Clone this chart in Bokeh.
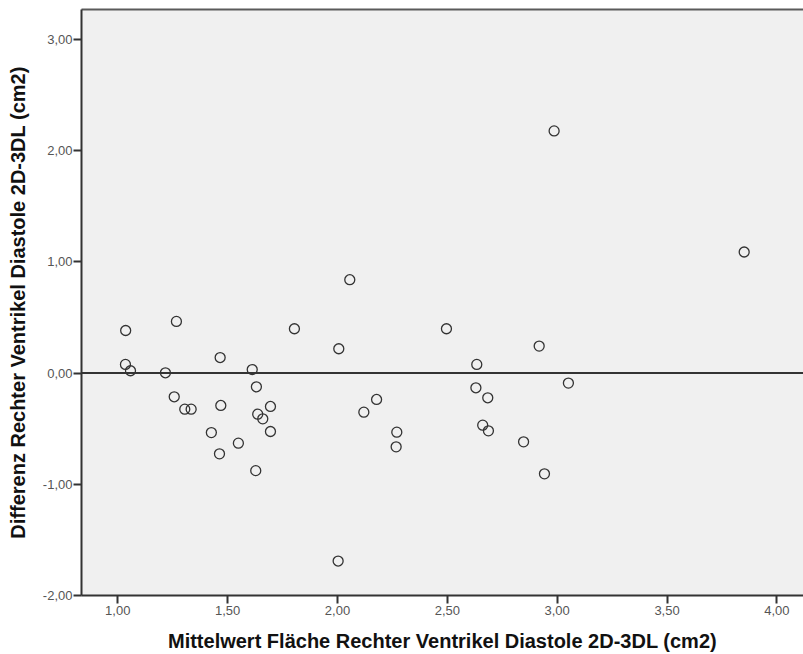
from bokeh.plotting import figure
from bokeh.models import FixedTicker, CustomJSTickFormatter, Span, Range1d, LinearAxis
from bokeh.embed import file_html
from bokeh.resources import INLINE

# Bland-Altman data: mean (x) and difference (y)
mean_vals = [1.036, 1.267, 1.035, 1.058, 1.217, 1.466, 1.612, 1.631, 1.257, 1.305,
             1.334, 1.469, 1.637, 1.660, 1.695, 1.695, 1.426, 1.549, 1.463, 1.628,
             1.804, 2.056, 2.006, 2.178, 2.120, 2.270, 2.267, 2.496, 2.634, 2.630,
             2.684, 2.661, 2.687, 2.847, 2.918, 3.051, 2.942, 2.986, 3.851, 2.003]
diff_vals = [0.383, 0.465, 0.078, 0.021, 0.003, 0.140, 0.032, -0.123, -0.213, -0.324,
             -0.324, -0.291, -0.369, -0.411, -0.300, -0.525, -0.535, -0.630, -0.726, -0.877,
             0.399, 0.840, 0.219, -0.237, -0.351, -0.531, -0.663, 0.399, 0.078, -0.132,
             -0.222, -0.468, -0.519, -0.618, 0.243, -0.090, -0.906, 2.178, 1.089, -1.690]

x_ticks = [1.0, 1.5, 2.0, 2.5, 3.0, 3.5, 4.0]
y_ticks = [-2.0, -1.0, 0.0, 1.0, 2.0, 3.0]
x_title = "Mittelwert Fläche Rechter Ventrikel Diastole 2D-3DL (cm2)"
y_title = "Differenz Rechter Ventrikel Diastole 2D-3DL (cm2)"

p = figure(width=803, height=654, output_backend="svg", toolbar_location=None,
           x_range=Range1d(0.835, 4.121), y_range=Range1d(-2.0, 3.27),
           min_border_left=81, min_border_right=0, min_border_top=9, min_border_bottom=59)

p.background_fill_color = "#f0f0f0"
p.border_fill_color = "white"
p.outline_line_color = None
p.xgrid.visible = False
p.ygrid.visible = False

bottom_axis = p.below[0]
left_axis = p.left[0]

fmt = CustomJSTickFormatter(code="return tick.toFixed(2).replace('.', ',');")

for ax, ticks in ((bottom_axis, x_ticks), (left_axis, y_ticks)):
    ax.ticker = FixedTicker(ticks=ticks)
    ax.formatter = fmt
    ax.minor_tick_line_color = None
    ax.major_tick_in = 0
    ax.major_tick_out = 8
    ax.major_tick_line_color = "#333333"
    ax.major_tick_line_width = 2
    ax.axis_line_color = "#333333"
    ax.axis_line_width = 2
    ax.major_label_text_font = "Liberation Sans"
    ax.major_label_text_font_size = "13px"
    ax.major_label_text_color = "#555555"
    ax.axis_label_text_font = "Liberation Sans"
    ax.axis_label_text_font_style = "bold"
    ax.axis_label_text_font_size = "20px"
    ax.axis_label_text_color = "#111111"

bottom_axis.axis_label = x_title
left_axis.axis_label = y_title
bottom_axis.major_label_standoff = 2
left_axis.major_label_standoff = 1
bottom_axis.axis_label_standoff = 12
left_axis.axis_label_standoff = 11

# top frame line (no ticks, no labels)
top = LinearAxis(ticker=FixedTicker(ticks=[]), major_tick_line_color=None,
                 minor_tick_line_color=None, major_label_text_font_size="0px",
                 major_tick_out=0, major_tick_in=0, major_label_standoff=0,
                 axis_line_color="#5a5a5a", axis_line_width=2)
p.add_layout(top, "above")

p.add_layout(Span(location=0, dimension="width", line_color="#333333", line_width=2))

p.scatter(mean_vals, diff_vals, marker="circle", size=10, fill_color=None,
          line_color="#333333", line_width=1.3)

open("out.html", "w").write(file_html(p, INLINE))
